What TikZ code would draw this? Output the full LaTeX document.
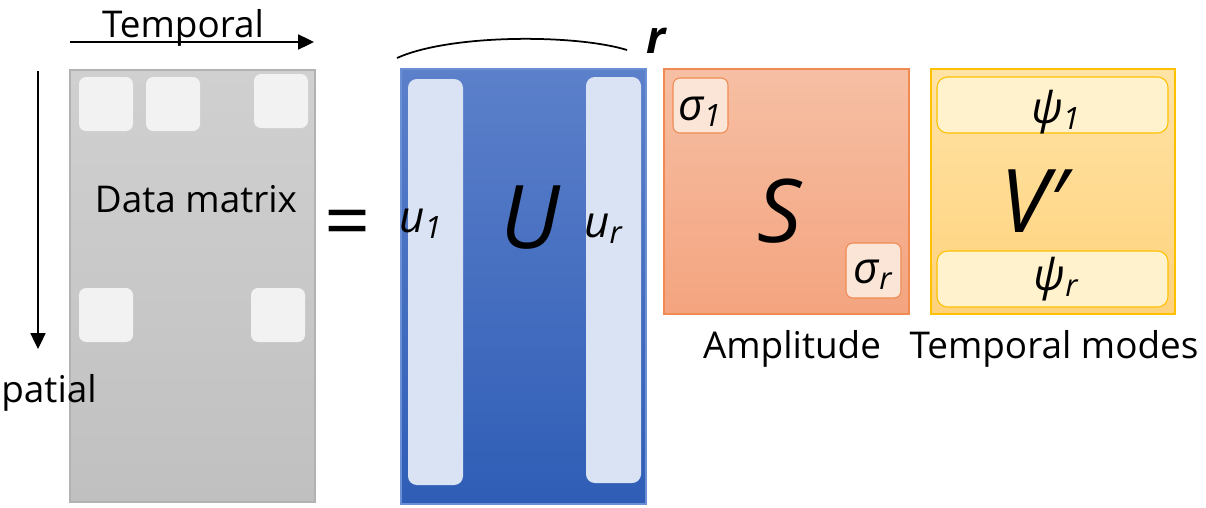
\documentclass[tikz,border=0pt]{standalone}
\usepackage{fontspec}
\setmainfont{Open Sans}
\usetikzlibrary{arrows.meta,fit,positioning}
\definecolor{dmTop}{HTML}{D0D0D0}
\definecolor{dmBot}{HTML}{C0C0C0}
\definecolor{dmCell}{HTML}{F2F2F2}
\definecolor{uBlueTop}{HTML}{5C80CA}
\definecolor{uBlueBot}{HTML}{2F5DB6}
\definecolor{uEdge}{HTML}{6A8FD4}
\definecolor{uCol}{HTML}{DAE3F3}
\definecolor{sTop}{HTML}{F6BFA4}
\definecolor{sBot}{HTML}{F4A47F}
\definecolor{sEdge}{HTML}{F08A52}
\definecolor{sCell}{HTML}{FBE5D6}
\definecolor{vTop}{HTML}{FFE3A6}
\definecolor{vBot}{HTML}{FFD27C}
\definecolor{vEdge}{HTML}{FFC000}
\definecolor{vCell}{HTML}{FFF2CC}

\begin{document}
\begin{tikzpicture}[x=0.02cm, y=-0.02cm,
  lbl/.style={font=\fontsize{21}{25}\selectfont, anchor=base, inner sep=0pt},
  bigsym/.style={font=\itshape\fontsize{50}{60}\selectfont, anchor=base, inner sep=0pt},
  sym/.style={font=\itshape\fontsize{25}{30}\selectfont, anchor=base, inner sep=0pt},
  mat/.style={inner sep=0pt, line width=0.6pt},
  cell/.style={inner sep=0pt, rounded corners=4pt, line width=0.6pt},
  axis/.style={line width=1.1pt, -{Triangle[length=9pt, width=8.5pt]}}]
  \useasboundingbox (0,0) rectangle (1206,507);

  % axes
  \coordinate (tStart) at (70,42);
  \coordinate (tEnd) at (314,42);
  \coordinate (sStart) at (38,71);
  \coordinate (sEnd) at (38,349);
  \draw[axis] (tStart) -- (tEnd);
  \draw[axis] (sStart) -- (sEnd);
  \node[lbl] (temporal) at (183,37) {Temporal};

  % data matrix
  \node[mat, fit={(70,70)(315,502)}, top color=dmTop, bottom color=dmBot, draw=black!30] (data) {};
  \foreach \x/\y [count=\i] in {79/77, 146/77, 254/74, 79/288, 251/288}
    \node[cell, fill=dmCell, fit={(\x,\y)(\x+54,\y+54)}] (dcell\i) {};
  \node[lbl] (datalbl) at (196,212) {Data matrix};
  \node[lbl, anchor=base west] (spatial) at (1,402) {patial};
  \node[font=\fontsize{46}{50}\selectfont, inner sep=0pt] (eq) at (348,230) {=};

  % U
  \node[mat, fit={(401,69)(646,504)}, top color=uBlueTop, bottom color=uBlueBot, draw=uEdge] (umat) {};
  \node[cell, rounded corners=5pt, fill=uCol, fit={(408,79)(463,485)}] (ucol1) {};
  \node[cell, rounded corners=5pt, fill=uCol, fit={(586,77)(641,483)}] (ucolr) {};
  \node[sym, anchor=base west] (u1) at (399,232) {u\textsubscript{1}};
  \node[sym, anchor=base west] (ur) at (584,237) {u\textsubscript{r}};
  \node[bigsym] (ulbl) at (530,248) {U};
  \coordinate (arcL) at (397,58);
  \coordinate (arcR) at (627,50);
  \draw[line width=1pt] (arcL) .. controls (450,34) and (575,34) .. (arcR);
  \node[sym, font=\bfseries\itshape\fontsize{26}{30}\selectfont] (rank) at (656,53) {r};

  % S
  \node[mat, fit={(664,69)(909,314)}, top color=sTop, bottom color=sBot, draw=sEdge] (smat) {};
  \node[cell, fill=sCell, draw=sEdge, fit={(673,78)(728,133)}] (sig1) {};
  \node[cell, fill=sCell, draw=sEdge, fit={(846,243)(901,298)}] (sigr) {};
  \node[sym] at (700,120) {σ\textsubscript{1}};
  \node[sym] at (873,283) {σ\textsubscript{r}};
  \node[bigsym] (slbl) at (780,242) {S};
  \node[lbl] (amp) at (792,358) {Amplitude};

  % V'
  \node[mat, fit={(931,69)(1175,314)}, top color=vTop, bottom color=vBot, draw=vEdge] (vmat) {};
  \node[cell, rounded corners=6pt, fill=vCell, draw=vEdge, fit={(937,77)(1168,133)}] (psi1) {};
  \node[cell, rounded corners=6pt, fill=vCell, draw=vEdge, fit={(937,251)(1168,307)}] (psir) {};
  \node[sym] at (1056,123) {ψ\textsubscript{1}};
  \node[sym] at (1056,290) {ψ\textsubscript{r}};
  \node[bigsym] (vlbl) at (1034,232) {V′};
  \node[lbl] (tmodes) at (1054,358) {Temporal modes};
\end{tikzpicture}
\end{document}
